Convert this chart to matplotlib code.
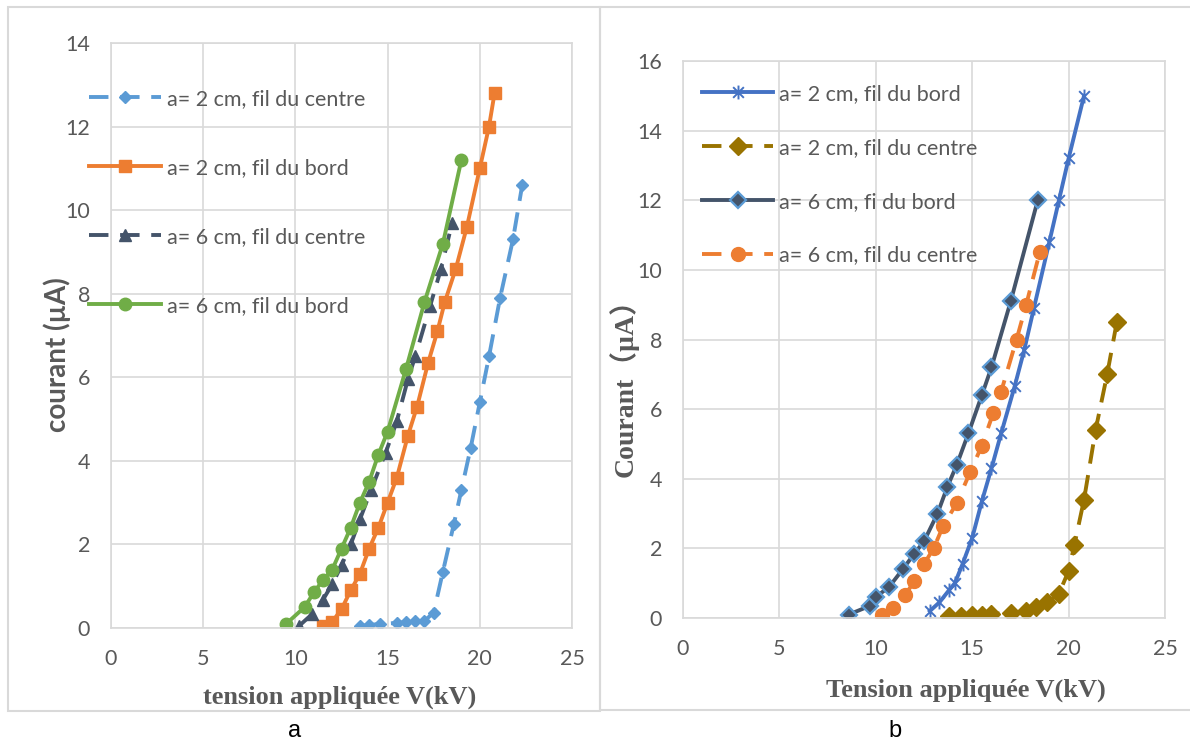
import matplotlib
matplotlib.use("Agg")
import matplotlib.pyplot as plt
from matplotlib.patches import Rectangle
from matplotlib.path import Path

# ---- Panel a : courant vs tension ----
a_c2_x = [13.5, 14, 14.6, 15.5, 16, 16.5, 17, 17.5, 18, 18.6, 19, 19.5, 20, 20.5, 21.1, 21.8, 22.3]
a_c2_y = [0.05, 0.07, 0.1, 0.12, 0.14, 0.16, 0.17, 0.37, 1.35, 2.5, 3.3, 4.3, 5.4, 6.5, 7.9, 9.3, 10.6]

a_b2_x = [11.5, 12, 12.5, 13, 13.5, 14, 14.5, 15, 15.5, 16.1, 16.6, 17.2, 17.7, 18.1, 18.7, 19.3, 20, 20.5, 20.8]
a_b2_y = [0.05, 0.15, 0.45, 0.9, 1.3, 1.9, 2.4, 3.0, 3.6, 4.6, 5.3, 6.35, 7.1, 7.8, 8.6, 9.6, 11.0, 12.0, 12.8]

a_c6_x = [10.2, 10.9, 11.5, 12, 12.5, 13, 13.5, 14.1, 14.9, 15.5, 16.1, 16.5, 17.3, 17.9, 18.5]
a_c6_y = [0.05, 0.33, 0.68, 1.05, 1.5, 2.0, 2.6, 3.3, 4.2, 4.95, 5.95, 6.5, 7.7, 8.6, 9.7]

a_b6_x = [9.5, 10.5, 11, 11.5, 12, 12.5, 13, 13.5, 14, 14.5, 15, 16, 17, 18, 19]
a_b6_y = [0.1, 0.5, 0.85, 1.15, 1.4, 1.9, 2.4, 3.0, 3.5, 4.15, 4.7, 6.2, 7.8, 9.2, 11.2]

# ---- Panel b ----
b_b2_x = [12.8, 13.3, 13.8, 14.1, 14.5, 15, 15.5, 16, 16.5, 17.2, 17.7, 18.2, 19, 19.5, 20, 20.8]
b_b2_y = [0.2, 0.45, 0.8, 1.0, 1.55, 2.3, 3.35, 4.3, 5.3, 6.65, 7.7, 8.9, 10.8, 12.0, 13.2, 15.0]

b_c2_x = [13.8, 14.4, 15, 15.5, 16, 17, 17.8, 18.3, 18.9, 19.5, 20, 20.3, 20.8, 21.4, 22, 22.5]
b_c2_y = [0.05, 0.07, 0.08, 0.1, 0.12, 0.15, 0.2, 0.32, 0.45, 0.7, 1.35, 2.1, 3.4, 5.4, 7.0, 8.5]

b_b6_x = [8.6, 9.7, 10, 10.7, 11.4, 12, 12.5, 13.2, 13.7, 14.2, 14.8, 15.5, 16, 17, 18.4]
b_b6_y = [0.1, 0.35, 0.6, 0.9, 1.4, 1.85, 2.2, 3.0, 3.75, 4.4, 5.3, 6.4, 7.2, 9.1, 12.0]

b_c6_x = [10.3, 10.9, 11.5, 12, 12.5, 13, 13.5, 14.2, 14.9, 15.5, 16.1, 16.5, 17.3, 17.8, 18.5]
b_c6_y = [0.1, 0.3, 0.65, 1.05, 1.55, 2.0, 2.65, 3.3, 4.2, 4.95, 5.9, 6.5, 8.0, 9.0, 10.5]

labels_a = ["a= 2 cm, fil du centre", "a= 2 cm, fil du bord",
            "a= 6 cm, fil du centre", "a= 6 cm, fil du bord"]
labels_b = ["a= 2 cm, fil du bord", "a= 2 cm, fil du centre",
            "a= 6 cm, fi du bord", "a= 6 cm, fil du centre"]

x_ticks = [0, 5, 10, 15, 20, 25]
ya_ticks = [0, 2, 4, 6, 8, 10, 12, 14]
yb_ticks = [0, 2, 4, 6, 8, 10, 12, 14, 16]

GRID = "#D9D9D9"
TXT = "#595959"
SANS = ["Lato", "DejaVu Sans"]
SERIF = ["Liberation Serif", "DejaVu Serif"]
FS = 15.5

# asterisk marker: an "x" crossed by a vertical bar
star = Path([(-1, -1), (1, 1), (-1, 1), (1, -1), (0, -1.3), (0, 1.3)],
            [Path.MOVETO, Path.LINETO, Path.MOVETO, Path.LINETO, Path.MOVETO, Path.LINETO])

fig = plt.figure(figsize=(11.9, 7.44), dpi=100)
W, H = 1190, 744


def frac(x0, y0, x1, y1):
    return [x0 / W, 1 - y1 / H, (x1 - x0) / W, (y1 - y0) / H]


# panel frames
for (x0, y0, x1, y1) in [(8, 7, 600, 711), (600, 7, 1196, 710)]:
    fig.patches.append(Rectangle((x0 / W, 1 - y1 / H), (x1 - x0) / W, (y1 - y0) / H,
                                 transform=fig.transFigure, fill=False,
                                 edgecolor=GRID, linewidth=1.5))


def style_axes(ax, yticks, ymax):
    ax.set_xlim(0, 25)
    ax.set_ylim(0, ymax)
    ax.set_xticks(x_ticks)
    ax.set_yticks(yticks)
    ax.grid(True, color=GRID, linewidth=1.2)
    ax.set_axisbelow(True)
    for s in ax.spines.values():
        s.set_color(GRID)
        s.set_linewidth(1.2)
    ax.tick_params(length=0, colors=TXT, labelsize=FS, pad=15)
    for lab in ax.get_xticklabels() + ax.get_yticklabels():
        lab.set_family(SANS)


LW = 2.8
DASH = (5, 3)

# ---------------- panel a ----------------
axa = fig.add_axes(frac(111, 43, 572, 628))
style_axes(axa, ya_ticks, 14)
axa.plot(a_c2_x, a_c2_y, color="#5B9BD5", lw=LW, dashes=DASH, marker="D", ms=6.5,
         label=labels_a[0])
axa.plot(a_b2_x, a_b2_y, color="#ED7D31", lw=LW, marker="s", ms=8,
         label=labels_a[1])
axa.plot(a_c6_x, a_c6_y, color="#44546A", lw=LW, dashes=DASH, marker="^", ms=9,
         label=labels_a[2])
axa.plot(a_b6_x, a_b6_y, color="#70AD47", lw=LW, marker="o", ms=9,
         label=labels_a[3])
axa.set_xlabel("tension appliquée V(kV)", family=SERIF, weight="bold",
               fontsize=19, color=TXT)
axa.xaxis.set_label_coords(0.497, -0.099)
axa.set_ylabel("courant (µA)", family=SANS, weight="bold", fontsize=20,
               color=TXT)
axa.yaxis.set_label_coords(-0.087, 0.4675)
axa.legend(loc="upper left", bbox_to_anchor=(89 / W, 1 - 89 / H),
           bbox_transform=fig.transFigure, frameon=False, prop={"family": SANS, "size": FS},
           labelcolor=TXT, handlelength=3.35, handletextpad=0.28, labelspacing=2.27,
           borderpad=0, borderaxespad=0, numpoints=1)

# ---------------- panel b ----------------
axb = fig.add_axes(frac(683, 61, 1165, 618))
style_axes(axb, yb_ticks, 16)
axb.plot(b_b2_x, b_b2_y, color="#4472C4", lw=LW, marker=star, ms=10, mew=1.4,
         fillstyle="none", label=labels_b[0])
axb.plot(b_c2_x, b_c2_y, color="#997300", lw=LW, dashes=DASH, marker="D", ms=9,
         label=labels_b[1])
axb.plot(b_b6_x, b_b6_y, color="#44546A", lw=LW, marker="D", ms=8.5,
         mec="#5B9BD5", mew=1.6, label=labels_b[2])
axb.plot(b_c6_x, b_c6_y, color="#ED7D31", lw=LW, dashes=DASH, marker="o", ms=10,
         label=labels_b[3])
axb.set_xlabel("Tension appliquée V(kV)", family=SERIF, weight="bold",
               fontsize=19, color=TXT)
axb.xaxis.set_label_coords(0.587, -0.108)
axb.set_ylabel("Courant（µA）", family=["Liberation Serif", "Noto Sans CJK SC"],
               weight="bold", fontsize=20, color=TXT)
axb.yaxis.set_label_coords(-0.093, 0.4255)
axb.legend(loc="upper left", bbox_to_anchor=(702 / W, 1 - 84 / H),
           bbox_transform=fig.transFigure, frameon=False, prop={"family": SANS, "size": FS},
           labelcolor=TXT, handlelength=3.3, handletextpad=0.28, labelspacing=1.57,
           borderpad=0, borderaxespad=0, numpoints=1)

# panel letters
fig.text(295 / W, 1 - 731 / H, "a", ha="center", va="center", fontsize=17,
         family=["Liberation Sans", "DejaVu Sans"])
fig.text(895 / W, 1 - 731 / H, "b", ha="center", va="center", fontsize=17,
         family=["Liberation Sans", "DejaVu Sans"])

fig.savefig("out.png", dpi=100)
